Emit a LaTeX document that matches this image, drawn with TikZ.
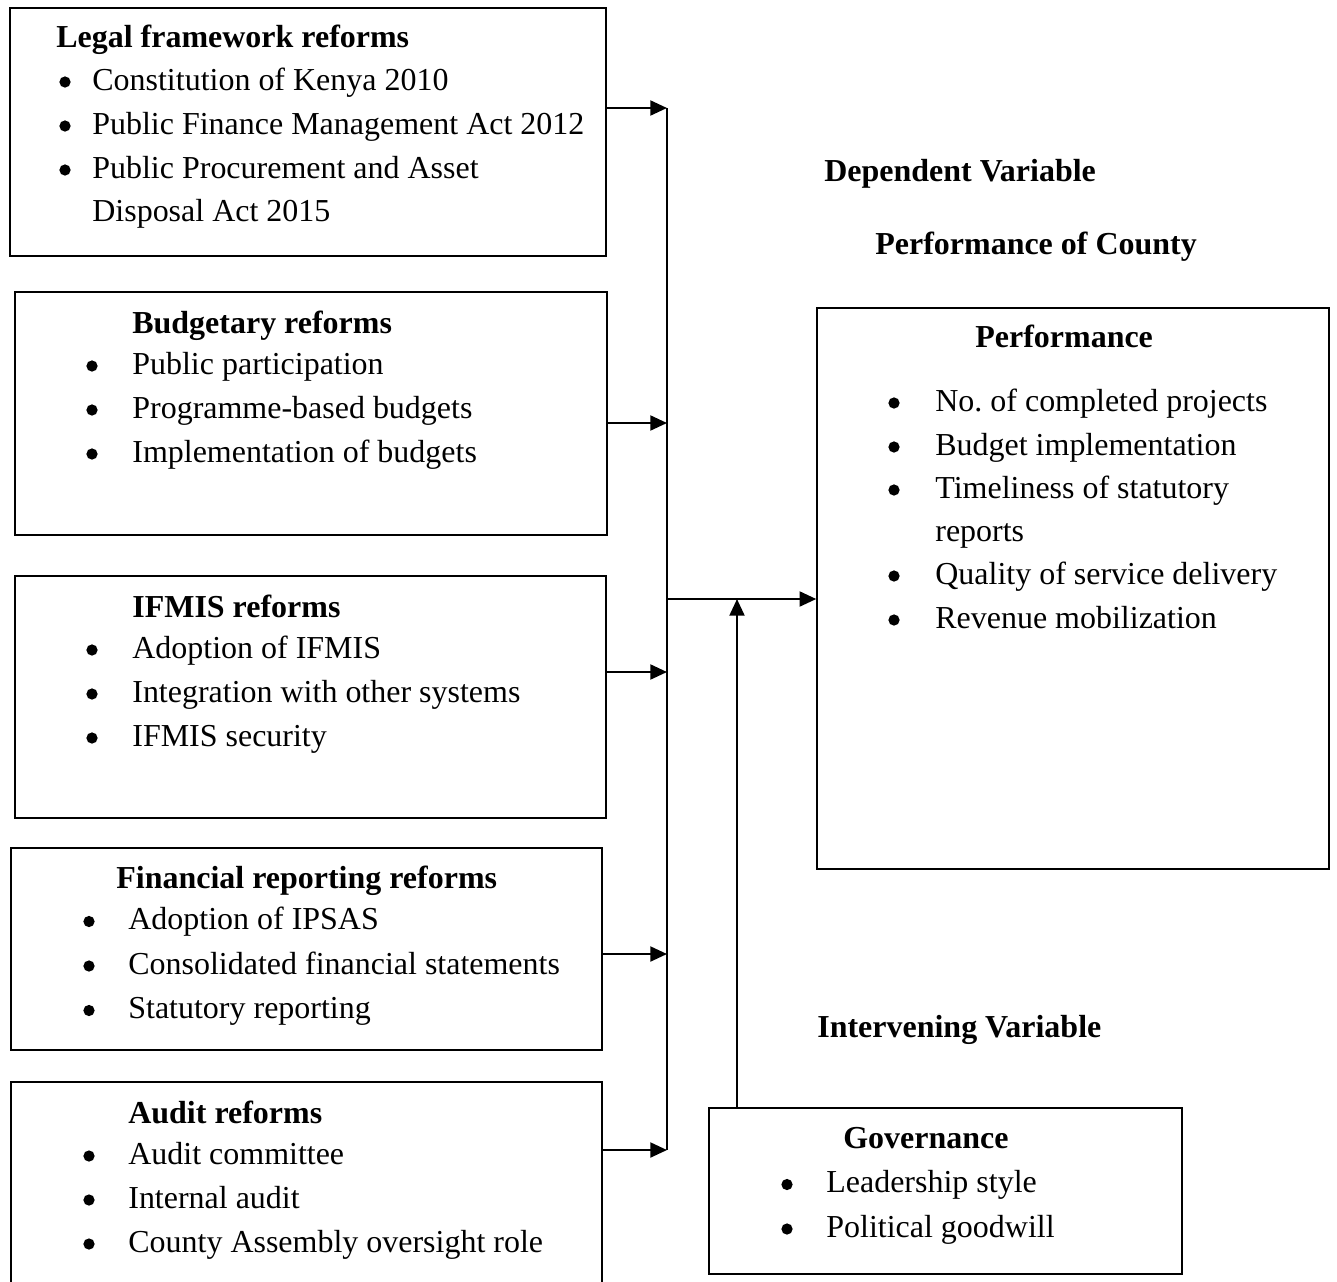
\documentclass[tikz,border=0pt]{standalone}
\usepackage{fontspec}
\setmainfont{Liberation Serif}
\usepackage{tikz}
\usetikzlibrary{arrows.meta,fit}
\frenchspacing

\newcommand\diagfont{\fontsize{18.2}{22}\selectfont}

\tikzset{
  box/.style={draw, line width=0.85pt, inner sep=0pt},
  head/.style={anchor=base west, inner sep=0pt, font=\diagfont\bfseries},
  item/.style={anchor=base west, inner sep=0pt, font=\diagfont},
  dot/.style={circle, fill, inner sep=0pt, minimum size=6.4pt},
  flow/.style={-{Triangle[length=9.5pt,width=8.5pt]}, line width=1.3pt},
  bus/.style={line width=0.75pt}
}

\begin{document}
\begin{tikzpicture}[x=0.02cm, y=-0.02cm]
\useasboundingbox (0,0) rectangle (1337,1281);
\clip (0,0) rectangle (1337,1281);
% independent variables
\node[box, fit={(10,8) (606,256)}] (legal) {};
\node[head] (legal-h) at (56,47) {Legal framework reforms};
\foreach \t [count=\i] in {Constitution of Kenya 2010, Public Finance Management Act 2012, Public Procurement and Asset}{
  \node[dot] (legal-b\i) at (65, 38+44*\i) {};
  \node[item] (legal-\i) at (92, 46+44*\i) {\t};
}
\node[item] (legal-4) at (92,221) {Disposal Act 2015};

\node[box, fit={(15,292) (607,535)}] (budget) {};
\node[head] (budget-h) at (132,333) {Budgetary reforms};
\foreach \t [count=\i] in {Public participation, Programme-based budgets, Implementation of budgets}{
  \node[dot] (budget-b\i) at (92, 322+44*\i) {};
  \node[item] (budget-\i) at (132, 330+44*\i) {\t};
}

\node[box, fit={(15,576) (606,818)}] (ifmis) {};
\node[head] (ifmis-h) at (132,617) {IFMIS reforms};
\foreach \t [count=\i] in {Adoption of IFMIS, Integration with other systems, IFMIS security}{
  \node[dot] (ifmis-b\i) at (92, 606+44*\i) {};
  \node[item] (ifmis-\i) at (132, 614+44*\i) {\t};
}

\node[box, fit={(11,848) (602,1050)}] (report) {};
\node[head] (report-h) at (116,888) {Financial reporting reforms};
\foreach \t [count=\i] in {Adoption of IPSAS, Consolidated financial statements, Statutory reporting}{
  \node[dot] (report-b\i) at (89, 877+44.5*\i) {};
  \node[item] (report-\i) at (128, 885+44.5*\i) {\t};
}

\node[box, fit={(11,1082) (602,1320)}] (audit) {};
\node[head] (audit-h) at (128,1123) {Audit reforms};
\foreach \t [count=\i] in {Audit committee, Internal audit, County Assembly oversight role}{
  \node[dot] (audit-b\i) at (89, 1112+44*\i) {};
  \node[item] (audit-\i) at (128, 1120+44*\i) {\t};
}

% dependent variable
\node[head] (dep) at (824,181) {Dependent Variable};
\node[head] (county) at (875,254) {Performance of County};
\node[box, fit={(817,308) (1329,869)}] (perf) {};
\node[head] (perf-h) at (975,347) {Performance};
\foreach \t/\yy [count=\i] in {No. of completed projects/411, Budget implementation/455, Timeliness of statutory/498, Quality of service delivery/584, Revenue mobilization/628}{
  \node[dot] (perf-b\i) at (894,\yy-8) {};
  \node[item] (perf-\i) at (935,\yy) {\t};
}
\node[item] (perf-r) at (935,541) {reports};

% intervening variable
\node[head] (inter) at (817,1037) {Intervening Variable};
\node[box, fit={(709,1108) (1182,1274)}] (gov) {};
\node[head] (gov-h) at (843,1148) {Governance};
\foreach \t [count=\i] in {Leadership style, Political goodwill}{
  \node[dot] (gov-b\i) at (787, 1140+44.5*\i) {};
  \node[item] (gov-\i) at (826, 1148+44.5*\i) {\t};
}

% connectors
\coordinate (join) at (667,599);
\coordinate (meet) at (737,599);
\foreach \b/\yy in {legal/108, budget/423, ifmis/672, report/954, audit/1150}{
  \coordinate (\b-in) at (667,\yy);
  \draw[flow] (\b.east |- \b-in) -- (\b-in);
}
\draw[bus] (legal-in) -- (audit-in);
\draw[flow] (join) -- (join -| perf.west);
\draw[flow] (meet |- gov.north) -- (meet);
\end{tikzpicture}
\end{document}
